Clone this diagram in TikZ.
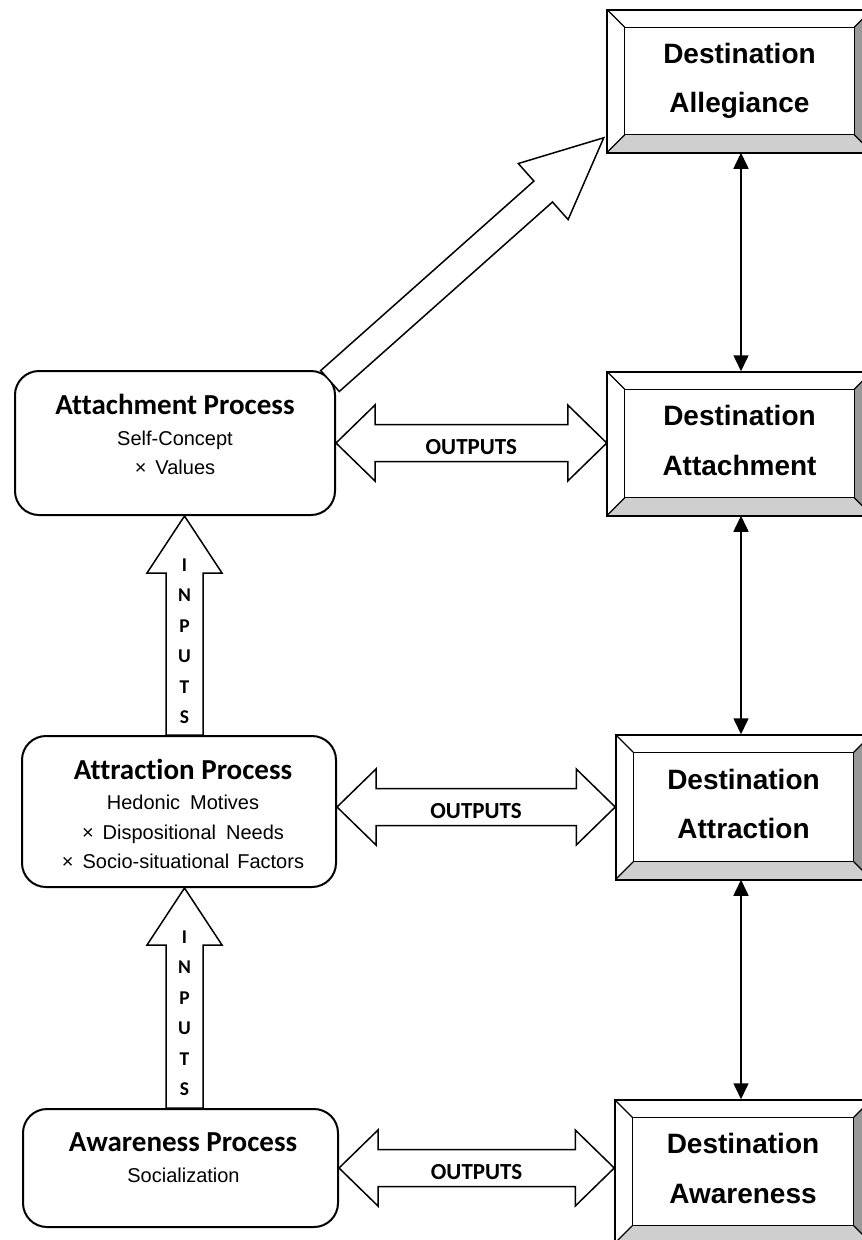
\documentclass[tikz,border=0pt]{standalone}
\usepackage{fontspec}
\setmainfont{Liberation Sans}
\newfontfamily\calfont[Ligatures=NoCommon]{Carlito}
\usetikzlibrary{calc,arrows.meta}

\tikzset{
  procbox/.style={draw, fill=white, line width=2pt, rounded corners=24pt, inner sep=0pt},
  destbox/.style={draw, fill=white, line width=1.5pt, inner sep=0pt, align=center,
    font=\fontsize{28}{49.5}\selectfont\bfseries},
  proctitle/.style={anchor=base, inner sep=0pt, font=\calfont\fontsize{29}{31}\selectfont\bfseries},
  procitem/.style={anchor=base, inner sep=0pt, font=\fontsize{20}{21}\selectfont},
  blockarrow/.style={draw, fill=white, line width=1.5pt, line join=miter},
  linkarrow/.style={line width=1.6pt, {Triangle[length=16pt,width=15pt]}-{Triangle[length=16pt,width=15pt]}},
  arrowlabel/.style={inner sep=0pt, font=\calfont\fontsize{23}{24}\selectfont\bfseries},
  stacklabel/.style={inner sep=0pt, align=center, font=\calfont\fontsize{19.5}{30.5}\selectfont\bfseries},
  bevlow/.style={fill=black!19},
  bevside/.style={fill=black!40},
  bevline/.style={line width=1.2pt},
}

% one text line of a bevelled box, with a uniform strut
\newcommand\dline[1]{\vphantom{Dg}#1}

% bevelled frame around a named rectangle node
\newcommand\bevel[1]{%
  \fill[bevlow] (#1.south west) -- (#1.south east) -- ($(#1.south east)+(-18,-18)$) -- ($(#1.south west)+(18,-18)$) -- cycle;
  \fill[bevside] (#1.south east) -- (#1.north east) -- ($(#1.north east)+(-18,18)$) -- ($(#1.south east)+(-18,-18)$) -- cycle;
  \draw[bevline] ($(#1.north west)+(18,18)$) rectangle ($(#1.south east)+(-18,-18)$);
  \draw[bevline] (#1.north west) -- ++(18,18) (#1.north east) -- ++(-18,18)
                 (#1.south west) -- ++(18,-18) (#1.south east) -- ++(-18,-18);
  \draw[line width=1.5pt] (#1.north west) rectangle (#1.south east);
}

% block arrow: tail, tip, shaft half-width, head half-width, head length
\newcommand\singleblock[5]{%
  \path ($(#2)!#5!(#1)$) coordinate (sb-h);
  \draw[blockarrow] ($(#1)!#3!90:(#2)$) -- ($(sb-h)!#3!90:(#2)$) -- ($(sb-h)!#4!90:(#2)$) -- (#2)
    -- ($(sb-h)!#4!-90:(#2)$) -- ($(sb-h)!#3!-90:(#2)$) -- ($(#1)!#3!-90:(#2)$) -- cycle;
}

% two-headed block arrow: left tip, right tip, shaft half-width, head half-width, head length
\newcommand\doubleblock[5]{%
  \path ($(#1)!#5!(#2)$) coordinate (db-l) ($(#2)!#5!(#1)$) coordinate (db-r);
  \draw[blockarrow] (#1) -- ($(db-l)!#4!90:(#2)$) -- ($(db-l)!#3!90:(#2)$) -- ($(db-r)!#3!90:(#2)$)
    -- ($(db-r)!#4!90:(#2)$) -- (#2) -- ($(db-r)!#4!-90:(#2)$) -- ($(db-r)!#3!-90:(#2)$)
    -- ($(db-l)!#3!-90:(#2)$) -- ($(db-l)!#4!-90:(#2)$) -- cycle;
}

\begin{document}
\begin{tikzpicture}[x=1pt,y=-1pt]
\useasboundingbox (0,0) rectangle (862,1240);
\clip (0,0) rectangle (862,1240);

% ---- process boxes (left column)
\node[procbox, minimum width=320pt, minimum height=144pt] (attach) at (175,443) {};
\node[procbox, minimum width=314pt, minimum height=151pt] (attr) at (179,811.5) {};
\node[procbox, minimum width=315pt, minimum height=118pt] (aware) at (180.5,1168) {};

\node[proctitle] (attach-t) at ($(attach.north)+(0,44)$) {Attachment Process};
\node[procitem] (attach-1) at ($(attach.north)+(0,75)$) {Self-Concept};
\node[procitem] (attach-2) at ($(attach.north)+(0,104)$) {×\hspace{0.45em}Values};

\node[proctitle] (attr-t) at ($(attr.north)+(4,44)$) {Attraction Process};
\node[procitem] (attr-1) at ($(attr.north)+(4,74)$) {Hedonic\hspace{0.5em}Motives};
\node[procitem] (attr-2) at ($(attr.north)+(4,104)$) {×\hspace{0.45em}Dispositional\hspace{0.5em}Needs};
\node[procitem] (attr-3) at ($(attr.north)+(4,133)$) {×\hspace{0.45em}Socio-situational\hspace{0.4em}Factors};

\node[proctitle] (aware-t) at ($(aware.north)+(2.5,43)$) {Awareness Process};
\node[procitem] (aware-1) at ($(aware.north)+(3,74)$) {Socialization};

% ---- destination boxes (right column)
\node[destbox, minimum width=264pt, minimum height=142pt] (dalleg) at (739.5,81)
  {\dline{Destination}\\\dline{Allegiance}};
\node[destbox, minimum width=264pt, minimum height=143pt] (dattach) at (739.5,443.5)
  {\dline{Destination}\\\dline{Attachment}};
\node[destbox, minimum width=255pt, minimum height=144pt] (dattr) at (743.5,807)
  {\dline{Destination}\\\dline{Attraction}};
\node[destbox, minimum width=256pt, minimum height=143pt] (daware) at (743,1171.5)
  {\dline{Destination}\\\dline{Awareness}};
\bevel{dalleg}
\bevel{dattach}
\bevel{dattr}
\bevel{daware}

% ---- links between destination stages
\coordinate (lx) at (741,0);
\draw[linkarrow] (dalleg.south -| lx) -- (dattach.north -| lx);
\draw[linkarrow] (dattach.south -| lx) -- (dattr.north -| lx);
\draw[linkarrow] (dattr.south -| lx) -- (daware.north -| lx);

% ---- outputs
\coordinate (o1l) at (attach.east);
\coordinate (o1r) at (dattach.west |- attach.east);
\doubleblock{o1l}{o1r}{18.5pt}{38pt}{39pt}
\node[arrowlabel] (out1) at ($(o1l)!0.5!(o1r)+(0,4)$) {OUTPUTS};

\coordinate (o2l) at (attr.east |- dattr.west);
\coordinate (o2r) at (dattr.west);
\doubleblock{o2l}{o2r}{18.5pt}{38pt}{39pt}
\node[arrowlabel] (out2) at ($(o2l)!0.5!(o2r)+(0,4)$) {OUTPUTS};

\coordinate (o3l) at (aware.east);
\coordinate (o3r) at (daware.west |- aware.east);
\doubleblock{o3l}{o3r}{18.5pt}{38pt}{39pt}
\node[arrowlabel] (out3) at ($(o3l)!0.5!(o3r)+(0,4)$) {OUTPUTS};

% ---- inputs
\coordinate (inx) at (184.5,0);
\coordinate (i1tail) at (attr.north -| inx);
\coordinate (i1tip) at (attach.south -| inx);
\singleblock{i1tail}{i1tip}{18.5pt}{37.5pt}{57pt}
\node[stacklabel] (in1) at ($(i1tip)+(0,125)$) {I\\N\\P\\U\\T\\S};

\coordinate (i2tail) at (aware.north -| inx);
\coordinate (i2tip) at (attr.south -| inx);
\singleblock{i2tail}{i2tip}{18.5pt}{37.5pt}{57pt}
\node[stacklabel] (in2) at ($(i2tip)+(0,125)$) {I\\N\\P\\U\\T\\S};

% ---- attachment leads on to allegiance
\coordinate (dtail) at ($(attach.north east)+(-6,11)$);
\coordinate (dtip) at ($(dalleg.south west)+(-3,-15)$);
\singleblock{dtail}{dtip}{14pt}{37.5pt}{81pt}

\end{tikzpicture}
\end{document}
